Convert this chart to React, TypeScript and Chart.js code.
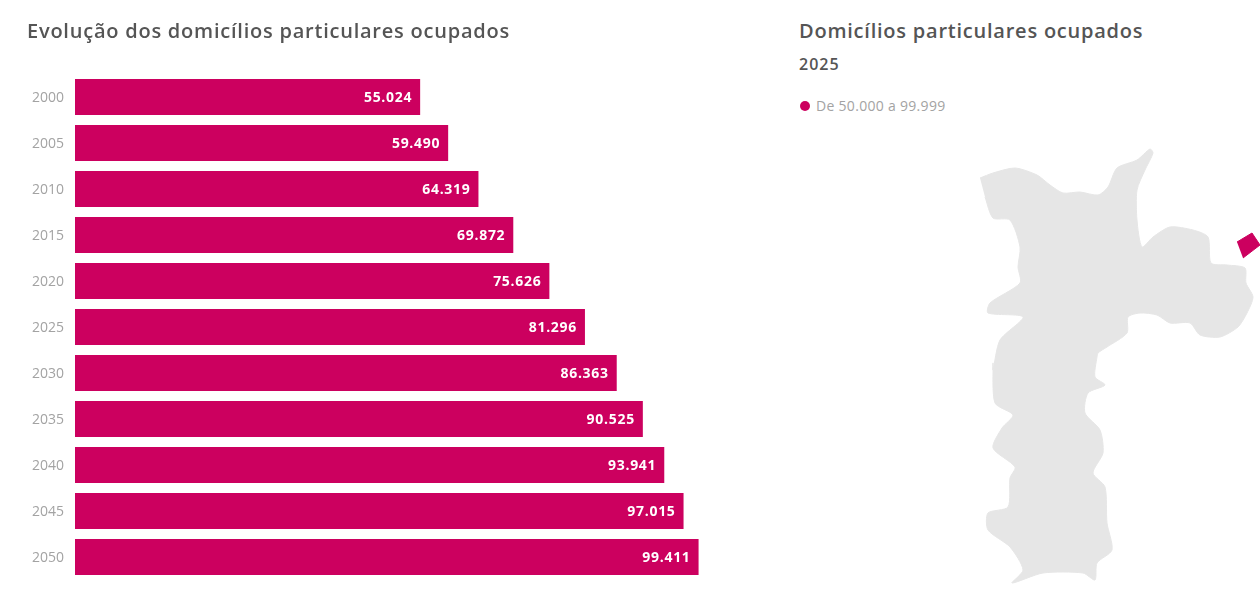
import React, { useEffect, useRef } from "react";
import { Chart, registerables } from "chart.js";

Chart.register(...registerables);

// Occupied private households by year
const years = ["2000", "2005", "2010", "2015", "2020", "2025", "2030", "2035", "2040", "2045", "2050"];
const households = [55024, 59490, 64319, 69872, 75626, 81296, 86363, 90525, 93941, 97015, 99411];

// Municipality outline and the single highlighted district, in map units
const outlineX = [980, 993, 1015, 1037, 1050, 1063, 1080, 1098, 1108, 1117, 1137, 1150, 1153, 1145, 1137, 1137, 1142, 1153, 1170, 1193, 1208, 1211, 1227, 1245, 1246, 1253, 1247, 1238, 1220, 1200, 1190, 1170, 1157, 1140, 1128, 1127, 1107, 1098, 1097, 1095, 1105, 1088, 1085, 1100, 1103, 1093, 1105, 1107, 1112, 1097, 1095, 1083, 1043, 1012, 1023, 1010, 988, 988, 1008, 1010, 1015, 993, 1002, 1013, 995, 993, 993, 1000, 1023, 988, 990, 1020, 1018, 1020, 1010, 993, 985];
const outlineY = [178, 173, 168, 175, 185, 193, 192, 195, 187, 168, 160, 149, 153, 170, 190, 220, 247, 237, 227, 230, 237, 263, 265, 268, 283, 297, 313, 327, 337, 335, 323, 323, 315, 313, 317, 333, 347, 353, 357, 377, 385, 393, 413, 430, 453, 473, 487, 523, 550, 563, 580, 573, 573, 583, 570, 547, 530, 513, 507, 478, 467, 448, 428, 415, 403, 363, 370, 340, 317, 313, 303, 283, 267, 247, 220, 218, 197];
const districtX = [1237, 1252, 1260, 1243];
const districtY = [242, 233, 245, 258];

const MAGENTA = "#cc005f";
const LAND = "#e6e6e6";
const FONT = "'Open Sans', sans-serif";

const toPoints = (xs: number[], ys: number[]) => xs.map((x, i) => ({ x, y: ys[i] }));

// Writes each value in white, right-aligned inside the end of its bar
const barValues = {
  id: "barValues",
  afterDatasetsDraw(chart: any) {
    const { ctx } = chart;
    const meta = chart.getDatasetMeta(0);
    ctx.save();
    ctx.fillStyle = "#ffffff";
    ctx.font = `700 14px ${FONT}`;
    ctx.letterSpacing = "0.7px";
    ctx.textAlign = "right";
    ctx.textBaseline = "middle";
    meta.data.forEach((bar: any, i: number) => {
      ctx.fillText(households[i].toLocaleString("pt-BR"), bar.x - 8, bar.y + 1);
    });
    ctx.restore();
  },
};

// Fills each line dataset as a closed polygon
const closedShapes = {
  id: "closedShapes",
  beforeDatasetDraw(chart: any, args: any) {
    const { ctx } = chart;
    const meta = chart.getDatasetMeta(args.index);
    ctx.save();
    ctx.fillStyle = meta.dataset.options.backgroundColor;
    ctx.beginPath();
    meta.dataset.path(ctx);
    ctx.closePath();
    ctx.fill();
    ctx.restore();
  },
};

const titleStyle: React.CSSProperties = {
  position: "absolute",
  fontFamily: FONT,
  fontWeight: 600,
  fontSize: 20,
  lineHeight: "24px",
  color: "#555555",
  whiteSpace: "nowrap",
  letterSpacing: 0.77,
};

export default function App() {
  const barRef = useRef<HTMLCanvasElement>(null);
  const mapRef = useRef<HTMLCanvasElement>(null);

  useEffect(() => {
    const bars = new Chart(barRef.current!, {
      type: "bar",
      data: {
        labels: years,
        datasets: [
          {
            data: households,
            backgroundColor: MAGENTA,
            barPercentage: 1,
            categoryPercentage: 0.783,
          },
        ],
      },
      options: {
        indexAxis: "y",
        animation: false,
        responsive: false,
        layout: { padding: { top: 74, bottom: 16, right: 0, left: 0 } },
        plugins: { legend: { display: false }, tooltip: { enabled: false } },
        scales: {
          x: { display: false, min: 0, max: 110000 },
          y: {
            afterFit(scale: any) {
              scale.width = 75;
              scale.paddingTop = 0;
              scale.paddingBottom = 0;
            },
            border: { display: false },
            grid: { display: false, drawTicks: false },
            ticks: { color: "#a3a3a3", font: { family: FONT, size: 14 }, padding: 11, labelOffset: 1 },
          },
        },
      },
      plugins: [barValues],
    } as any);

    const map = new Chart(mapRef.current!, {
      type: "scatter",
      data: {
        datasets: [
          {
            data: toPoints(outlineX, outlineY),
            showLine: true,
            fill: false,
            backgroundColor: LAND,
            borderColor: LAND,
            borderWidth: 1,
            pointRadius: 0,
            tension: 0.25,
          },
          {
            data: toPoints(districtX, districtY),
            showLine: true,
            fill: false,
            backgroundColor: MAGENTA,
            borderColor: MAGENTA,
            borderWidth: 1,
            pointRadius: 0,
          },
        ],
      },
      options: {
        animation: false,
        responsive: false,
        plugins: { legend: { display: false }, tooltip: { enabled: false } },
        scales: {
          x: { display: false, min: 960, max: 1260 },
          y: { display: false, min: 140, max: 596, reverse: true },
        },
      },
      plugins: [closedShapes],
    } as any);

    return () => {
      bars.destroy();
      map.destroy();
    };
  }, []);

  return (
    <div style={{ position: "fixed", left: 0, top: 0, width: 1260, height: 596, background: "#fff", overflow: "hidden" }}>
      <canvas ref={barRef} width={765} height={596} style={{ position: "absolute", left: 0, top: 0 }} />
      <canvas ref={mapRef} width={300} height={456} style={{ position: "absolute", left: 960, top: 140 }} />
      <div style={{ ...titleStyle, left: 27, top: 19 }}>Evolução dos domicílios particulares ocupados</div>
      <div style={{ ...titleStyle, left: 799, top: 19 }}>Domicílios particulares ocupados</div>
      <div style={{ ...titleStyle, left: 799, top: 53, fontSize: 16, letterSpacing: 1, lineHeight: "22px" }}>2025</div>
      <div style={{ position: "absolute", left: 800, top: 101, width: 10, height: 10, borderRadius: "50%", background: MAGENTA }} />
      <div style={{ position: "absolute", left: 816, top: 98, fontFamily: FONT, fontSize: 14, letterSpacing: 0.3, lineHeight: "16px", color: "#a3a3a3", whiteSpace: "nowrap" }}>De 50.000 a 99.999</div>
    </div>
  );
}
